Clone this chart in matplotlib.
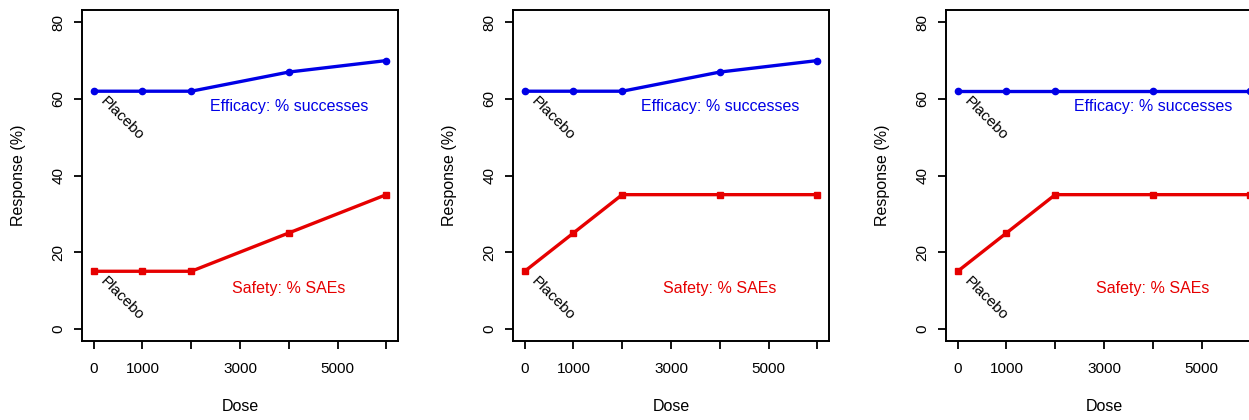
import matplotlib
matplotlib.use("Agg")
import matplotlib.pyplot as plt

plt.rcParams['font.family'] = ['Liberation Sans', 'DejaVu Sans']

dose = [0, 1000, 2000, 4000, 6000]
efficacy_1 = [62, 62, 62, 67, 70]
safety_1 = [15, 15, 15, 25, 35]
efficacy_2 = [62, 62, 62, 67, 70]
safety_2 = [15, 25, 35, 35, 35]
efficacy_3 = [62, 62, 62, 62, 62]
safety_3 = [15, 25, 35, 35, 35]

xticks = [0, 1000, 2000, 3000, 4000, 5000, 6000]
xticklabels = ["0", "1000", "", "3000", "", "5000", ""]
yticks = [0, 20, 40, 60, 80]

W, H = 1249, 420
fig = plt.figure(figsize=(W / 100, H / 100), dpi=100)

panel_left = [82, 513, 946]
panels = [(efficacy_1, safety_1), (efficacy_2, safety_2), (efficacy_3, safety_3)]
blue = '#0000e6'
red = '#e60000'

for left, (eff, saf) in zip(panel_left, panels):
    ax = fig.add_axes([left / W, (H - 341) / H, 316 / W, 331 / H])
    ax.plot(dose, eff, color=blue, lw=2.4, marker='o', ms=4.5, clip_on=False)
    ax.plot(dose, saf, color=red, lw=2.4, marker='s', ms=4.5, clip_on=False)
    ax.set_xlim(-240, 6240)
    ax.set_ylim(-3.2, 83.2)
    ax.set_xticks(xticks)
    ax.set_xticklabels(xticklabels)
    ax.set_yticks(yticks)
    ax.set_yticklabels([str(v) for v in yticks], rotation=90, va='center')
    ax.tick_params(direction='out', length=6, width=1.3, labelsize=11, pad=6)
    ax.tick_params(axis='x', pad=9)
    for s in ax.spines.values():
        s.set_linewidth(1.4)
    ax.set_xlabel("Dose", fontsize=11.5, labelpad=17)
    ax.set_ylabel("Response (%)", fontsize=11.5, labelpad=18)
    ax.text(4000, 58, "Efficacy: % successes", color=blue, fontsize=11.5,
            ha='center', va='center')
    ax.text(4000, 10.5, "Safety: % SAEs", color=red, fontsize=11.5,
            ha='center', va='center')
    for yv in (eff[0], saf[0]):
        ax.annotate("Placebo", (0, yv), xytext=(10, -2), textcoords='offset points',
                    rotation=-45, rotation_mode='anchor', ha='left', va='top',
                    fontsize=11)

fig.savefig("out.png", dpi=100)
